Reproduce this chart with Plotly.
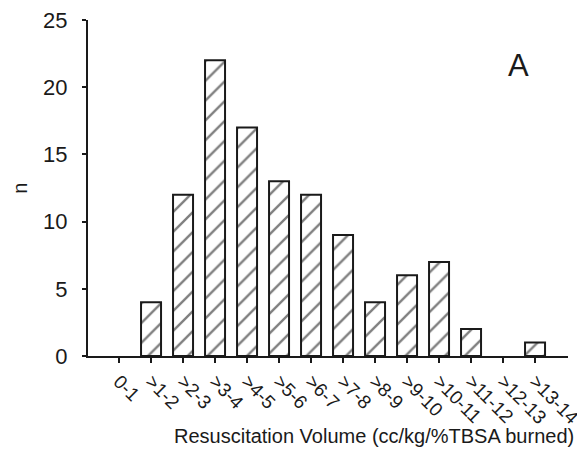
import plotly.graph_objects as go

categories = ["0-1", ">1-2", ">2-3", ">3-4", ">4-5", ">5-6", ">6-7", ">7-8",
              ">8-9", ">9-10", ">10-11", ">11-12", ">12-13", ">13-14"]
counts = [0, 4, 12, 22, 17, 13, 12, 9, 4, 6, 7, 2, 0, 1]
y_ticks = [0, 5, 10, 15, 20, 25]

ink = "#1a1a1a"
fig = go.Figure()
fig.add_trace(go.Bar(
    x=list(range(len(categories))),
    y=counts,
    width=0.625,
    marker=dict(
        color="white",
        line=dict(color=ink, width=[0 if v == 0 else 2 for v in counts]),
        pattern=dict(shape="/", fgcolor="#000000", bgcolor="white", size=14, solidity=0.17),
    ),
    showlegend=False,
))

font = "Liberation Sans, Arial, sans-serif"
# page body has an 8px default margin, so the figure is sized/offset to compensate
fig.update_layout(
    width=577, height=445,
    margin=dict(l=80, r=17, t=12, b=97),
    plot_bgcolor="white", paper_bgcolor="white",
    font=dict(family=font, color=ink),
    xaxis=dict(
        range=[-0.97, 14.03],
        tickmode="array",
        tickvals=list(range(len(categories))),
        ticktext=categories,
        tickangle=45,
        ticks="outside", ticklen=5, tickwidth=2, tickcolor=ink,
        showline=True, linecolor=ink, linewidth=2,
        showgrid=False, zeroline=False, automargin=False,
        ticklabeloverflow="allow",
        tickfont=dict(size=19),
    ),
    yaxis=dict(
        range=[0, 25],
        tickmode="array", tickvals=y_ticks,
        ticks="outside", ticklen=4, tickwidth=2, tickcolor=ink,
        ticklabelstandoff=10,
        showline=True, linecolor=ink, linewidth=2,
        showgrid=False, zeroline=False, automargin=False,
        ticklabeloverflow="allow",
        tickfont=dict(size=22),
    ),
    annotations=[
        dict(text="Resuscitation Volume (cc/kg/%TBSA burned)", x=0.596, y=-0.238,
             xref="paper", yref="paper", showarrow=False, yanchor="middle",
             xanchor="center", font=dict(size=20)),
        dict(text="n", x=-0.142, y=0.5, xref="paper", yref="paper", showarrow=False,
             textangle=-90, xanchor="center", yanchor="middle", font=dict(size=20)),
        dict(text="A", x=(518 - 88) / 480, y=(356 - 65.5) / 336, xref="paper", yref="paper",
             showarrow=False, xanchor="center", yanchor="middle", font=dict(size=31)),
    ],
)

fig.write_html("out.html")
